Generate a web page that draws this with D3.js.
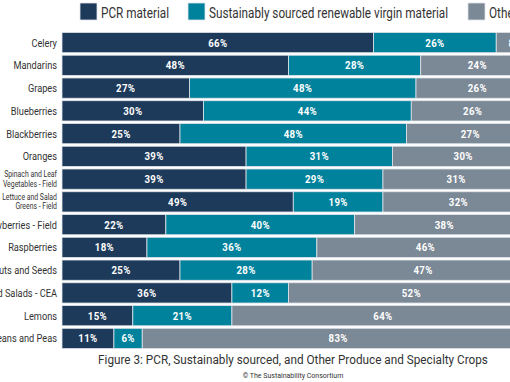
<!DOCTYPE html>
<html><head><meta charset="utf-8">
<script src="https://cdn.jsdelivr.net/npm/d3@7"></script>
<style>html,body{margin:0;padding:0;background:#fff;overflow:hidden}</style>
</head><body><svg id="c" width="510" height="382"></svg>
<script>
const categories = ["Celery","Mandarins","Grapes","Blueberries","Blackberries","Oranges","Spinach and Leaf|Vegetables - Field","Lettuce and Salad|Greens - Field","Strawberries - Field","Raspberries","Tree Nuts and Seeds","Packaged Salads - CEA","Lemons","Beans and Peas"];
const pcr = [66,48,27,30,25,39,39,49,22,18,25,36,15,11];
const renewable = [26,28,48,44,48,31,29,19,40,36,28,12,21,6];
const other = [8,24,26,26,27,30,31,32,38,46,47,52,64,83];
const seriesNames = ["PCR material","Sustainably sourced renewable virgin material","Other"];
const colors = ["#1e3a5a","#00829c","#7b8895"];
const title = "Figure 3: PCR, Sustainably sourced, and Other Produce and Specialty Crops";
const credit = "© The Sustainability Consortium";

const svg = d3.select("#c");
const x = d3.scaleLinear().domain([0,100]).range([62,534]);
const y = d3.scaleBand().domain(categories).range([32,349]).paddingInner(0.11).paddingOuter(0.02);
const font = "Roboto, 'Noto Sans', sans-serif";
const SX = 0.84;

const rows = categories.map((c,i)=>({cat:c, vals:[pcr[i],renewable[i],other[i]]}));
const segs = [];
rows.forEach(r=>{ let acc=0; r.vals.forEach((v,j)=>{ segs.push({cat:r.cat,x0:acc,x1:acc+v,v,j}); acc+=v; }); });

svg.append("g").selectAll("rect").data(segs).join("rect")
  .attr("x",d=>x(d.x0)).attr("y",d=>y(d.cat))
  .attr("width",d=>x(d.x1)-x(d.x0)).attr("height",y.bandwidth())
  .attr("fill",d=>colors[d.j]).attr("stroke","#dfe4ea").attr("stroke-width",0.8);

svg.append("g").selectAll("text").data(segs).join("text")
  .attr("transform",d=>`translate(${(x(d.x0)+x(d.x1))/2},${y(d.cat)+y.bandwidth()/2+4}) scale(${SX},1)`)
  .attr("text-anchor","middle").attr("fill","#fff").attr("font-family",font)
  .attr("font-weight","bold").attr("font-size",11.5).attr("letter-spacing",0.4)
  .text(d=>d.v+"%");

const lab = svg.append("g").selectAll("text").data(categories).join("text")
  .attr("text-anchor","end").attr("fill","#333").attr("font-family",font);
lab.each(function(c){
  const t=d3.select(this); const parts=c.split("|"); const cy=y(c)+y.bandwidth()/2;
  t.attr("transform",`translate(57,${cy}) scale(${SX},1)`);
  if(parts.length===1){ t.attr("x",0).attr("y",4).attr("font-size",11).text(c); }
  else { t.attr("font-size",8.2);
    parts.forEach((p,k)=>t.append("tspan").attr("x",0).attr("y",-2+k*9.5).text(p)); }
});

// legend
const lx=[80,188,468];
const lw=[66,238,60];
const lg = svg.append("g").selectAll("g").data(seriesNames).join("g")
  .attr("transform",(d,i)=>`translate(${lx[i]},3)`);
lg.append("rect").attr("width",17).attr("height",17).attr("fill",(d,i)=>colors[i])
  .attr("stroke","#dfe4ea").attr("stroke-width",0.8);
lg.append("text").attr("transform",`translate(21,14.5) scale(${SX},1)`).attr("font-family",font).attr("font-size",14)
  .attr("fill","#333").text(d=>d);

svg.append("text").attr("transform",`translate(293,364) scale(${SX*1.06},1)`).attr("text-anchor","middle")
  .attr("font-family",font).attr("font-size",13.2).attr("fill","#333").text(title);
svg.append("text").attr("x",293).attr("y",378).attr("text-anchor","middle")
  .attr("font-family",font).attr("font-size",7).attr("fill","#333").text(credit);
</script></body></html>
